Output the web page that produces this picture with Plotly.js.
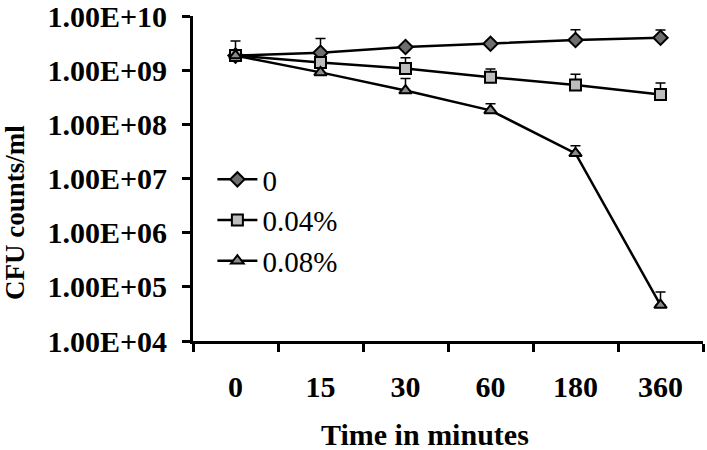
<!DOCTYPE html>
<html>
<head>
<meta charset="utf-8">
<script src="https://cdn.plot.ly/plotly-3.0.1.min.js"></script>
<style>html,body{margin:0;padding:0;background:#fff;}#chart{width:707px;height:450px;}</style>
</head>
<body>
<div id="chart"></div>
<script>
const categories = ['0', '15', '30', '60', '180', '360'];
const seriesNames = ['0', '0.04%', '0.08%'];
const ctrlValues = [1.86e9, 2.1e9, 2.67e9, 3.08e9, 3.6e9, 3.96e9];
const ctrlErrUp = [1.58e9, 1.75e9, 0, 0, 2.0e9, 1.54e9];
const lowValues = [1.86e9, 1.38e9, 1.07e9, 7.4e8, 5.3e8, 3.55e8];
const lowErrUp = [0, 0, 6.3e8, 3.1e8, 3.15e8, 2.25e8];
const highValues = [1.86e9, 9.1e8, 4.2e8, 1.81e8, 2.91e7, 4.6e4];
const highErrUp = [0, 0, 2.85e8, 5.9e7, 1.1e7, 3.4e4];
const yTickVals = [1e4, 1e5, 1e6, 1e7, 1e8, 1e9, 1e10];
const yTickText = ['1.00E+04', '1.00E+05', '1.00E+06', '1.00E+07', '1.00E+08', '1.00E+09', '1.00E+10'];

const serif = 'Liberation Serif, Times New Roman, serif';

function mk(name, y, err, symbol, fill, size) {
  return {
    type: 'scatter', mode: 'lines+markers', name: name,
    x: categories, y: y,
    line: {color: '#000', width: 2.5},
    marker: {symbol: symbol, color: fill, size: size, line: {color: '#000', width: 2}},
    error_y: {type: 'data', symmetric: false, array: err, arrayminus: err.map(() => 0),
              color: '#000', thickness: 1.5, width: 5}
  };
}

const data = [
  mk(seriesNames[0], ctrlValues, ctrlErrUp, 'diamond', '#6e6e6e', 11),
  mk(seriesNames[1], lowValues, lowErrUp, 'square', '#bdbdbd', 11),
  mk(seriesNames[2], highValues, highErrUp, 'triangle-up', '#8a8a8a', 11)
];

const PH = 341 - 16;
const layout = {
  width: 707, height: 450,
  margin: {l: 193, r: 4, t: 16, b: 109},
  paper_bgcolor: '#fff', plot_bgcolor: '#fff',
  showlegend: true,
  legend: {x: 0.038, y: (341 - 154) / PH, xanchor: 'left', yanchor: 'top',
           font: {family: serif, size: 29, color: '#000'}, bgcolor: 'rgba(0,0,0,0)',
           tracegroupgap: 0, itemwidth: 40},
  xaxis: {
    type: 'category', range: [-0.5, 5.5],
    showline: true, linecolor: '#000', linewidth: 3,
    ticks: 'outside', tickson: 'boundaries', ticklen: 8, tickwidth: 3, tickcolor: '#000',
    showgrid: false, zeroline: false,
    tickfont: {family: serif, size: 30, color: '#000', weight: 'bold'},
    ticklabelstandoff: 17
  },
  yaxis: {
    type: 'log', range: [4, 10],
    showline: true, linecolor: '#000', linewidth: 3,
    ticks: 'outside', ticklen: 8, tickwidth: 3, tickcolor: '#000',
    tickvals: yTickVals, ticktext: yTickText,
    showgrid: false, zeroline: false,
    ticklabeloverflow: 'allow',
    tickfont: {family: serif, size: 30, color: '#000', weight: 'bold'},
    ticklabelstandoff: 9
  },
  annotations: [
    {text: 'Time in minutes', xref: 'paper', yref: 'paper', x: (425 - 193) / 510, y: (341 - 434) / PH,
     xanchor: 'center', yanchor: 'middle', showarrow: false,
     font: {family: serif, size: 30, color: '#000', weight: 'bold'}},
    {text: 'CFU counts/ml', xref: 'paper', yref: 'paper', x: (15 - 193) / 510, y: (341 - 213) / PH,
     xanchor: 'center', yanchor: 'middle', showarrow: false, textangle: -90,
     font: {family: serif, size: 27, color: '#000', weight: 'bold'}}
  ]
};

Plotly.newPlot('chart', data, layout, {displayModeBar: false, staticPlot: true});
</script>
</body>
</html>
